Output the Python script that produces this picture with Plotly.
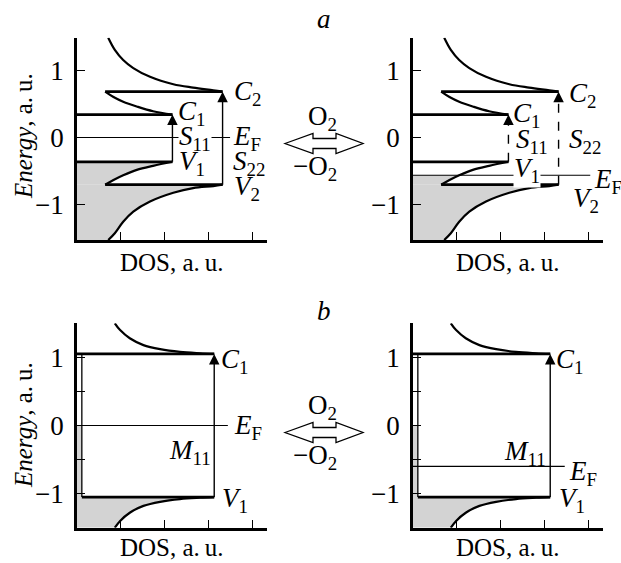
import plotly.graph_objects as go
from plotly.subplots import make_subplots

# ---------------- data ----------------
# (a) semiconducting tube: band edges (a.u.)
a_C2, a_C1, a_V1, a_V2 = 0.68, 0.34, -0.36, -0.70
a_EF = [0.0, -0.56]          # Fermi level: left (pristine), right (after O2)
a_EF_end = [3.48, 4.03]      # length of the E_F line (DOS units)
a_peak1, a_peak2, a_base = 2.17, 3.31, 0.64
a_C2_tail_x = [0.71, 0.86, 1.05, 1.28, 1.66, 2.19, 2.64, 3.10, 3.31]
a_C2_tail_E = [1.48, 1.30, 1.15, 1.03, 0.90, 0.79, 0.74, 0.70, 0.68]
a_C1_tail_x = [0.64, 0.83, 1.05, 1.36, 1.73, 2.17]
a_C1_tail_E = [0.68, 0.60, 0.53, 0.46, 0.39, 0.34]
a_V1_tail_x = [2.17, 1.73, 1.36, 1.05, 0.83, 0.64]
a_V1_tail_E = [-0.36, -0.42, -0.48, -0.56, -0.63, -0.70]
a_V2_tail_x = [3.31, 3.10, 2.64, 2.19, 1.66, 1.28, 1.05, 0.86, 0.71]
a_V2_tail_E = [-0.70, -0.72, -0.75, -0.82, -0.95, -1.10, -1.25, -1.42, -1.52]

# (b) metallic tube
b_C1, b_V1 = 1.05, -1.05
b_EF = [0.0, -0.60]
b_EF_end = [3.43, 3.45]
b_peak, b_const = 3.12, 0.11
b_fill_top = [0.0, 0.0]
b_C1_tail_x = [0.86, 0.98, 1.20, 1.51, 1.89, 2.34, 2.80, 3.12]
b_C1_tail_E = [1.50, 1.40, 1.28, 1.18, 1.12, 1.08, 1.06, 1.05]
b_V1_tail_x = [3.12, 2.80, 2.34, 1.89, 1.51, 1.20, 0.98, 0.86]
b_V1_tail_E = [-1.05, -1.06, -1.08, -1.12, -1.18, -1.28, -1.40, -1.50]

# label positions (DOS, energy); third flag: label masks the E_F line behind it
a_labels = [
    [("<i>S</i><sub>11</sub>", 2.30, -0.01, True),
     ("<i>C</i><sub>2</sub>", 3.55, 0.66, False), ("<i>C</i><sub>1</sub>", 2.27, 0.36, False),
     ("<i>E</i><sub>F</sub>", 3.52, 0.0, False),
     ("<i>S</i><sub>22</sub>", 3.52, -0.38, False), ("<i>V</i><sub>1</sub>", 2.30, -0.385, False),
     ("<i>V</i><sub>2</sub>", 3.55, -0.75, False)],
    [("<i>V</i><sub>1</sub>", 2.28, -0.48, True),
     ("<i>C</i><sub>2</sub>", 3.53, 0.63, False), ("<i>C</i><sub>1</sub>", 2.25, 0.33, False),
     ("<i>S</i><sub>11</sub>", 2.33, -0.05, False), ("<i>S</i><sub>22</sub>", 3.53, -0.05, False),
     ("<i>E</i><sub>F</sub>", 4.10, -0.65, False),
     ("<i>V</i><sub>2</sub>", 3.62, -0.93, False)],
]
b_labels = [
    [("<i>C</i><sub>1</sub>", 3.25, 0.95), ("<i>E</i><sub>F</sub>", 3.55, -0.02),
     ("<i>M</i><sub>11</sub>", 2.07, -0.39), ("<i>V</i><sub>1</sub>", 3.27, -1.10)],
    [("<i>C</i><sub>1</sub>", 3.22, 0.95), ("<i>M</i><sub>11</sub>", 2.04, -0.40),
     ("<i>E</i><sub>F</sub>", 3.52, -0.69), ("<i>V</i><sub>1</sub>", 3.30, -1.10)],
]

FONT = "Liberation Serif, Times New Roman, Times, serif"
GRAY = "#d3d3d3"
W, H = 621, 563

fig = make_subplots(rows=2, cols=2)
annotations = []

def add_line(x, y, xr, yr, width=2.2, dash="solid", shape="linear"):
    fig.add_trace(go.Scatter(x=x, y=y, mode="lines", xaxis=xr, yaxis=yr,
                             line=dict(color="black", width=width, dash=dash, shape=shape),
                             hoverinfo="skip", showlegend=False))

def add_fill(x, y, xr, yr, shape="linear"):
    fig.add_trace(go.Scatter(x=x, y=y, mode="lines", xaxis=xr, yaxis=yr, fill="tozerox",
                             fillcolor=GRAY, line=dict(width=0, color=GRAY, shape=shape),
                             hoverinfo="skip", showlegend=False))

def add_head(x, y, xr, yr):
    annotations.append(dict(x=x, y=y, ax=x, ay=y - 0.1, xref=xr, yref=yr, axref=xr, ayref=yr,
                            showarrow=True, arrowhead=2, arrowsize=1.4, arrowwidth=1.5,
                            arrowcolor="black", text="", standoff=0))

def add_label(t, x, y, xr, yr, bg=False):
    d = dict(text=t, x=x, y=y, xref=xr, yref=yr, xanchor="left", yanchor="middle",
             showarrow=False, font=dict(family=FONT, size=27, color="black"), borderpad=0)
    if bg:
        d["bgcolor"] = "white"
    annotations.append(d)

# ---- panel a ----
for i, (xr, yr) in enumerate([("x", "y"), ("x2", "y2")]):
    ef = a_EF[i]
    sel = [k for k, e in enumerate(a_V1_tail_E) if e <= ef + 1e-9]
    add_fill([a_V1_tail_x[k] for k in sel], [a_V1_tail_E[k] for k in sel], xr, yr, "spline")
    add_fill(a_V2_tail_x, a_V2_tail_E, xr, yr, "spline")
    for tx, te in [(a_C2_tail_x, a_C2_tail_E), (a_C1_tail_x, a_C1_tail_E),
                   (a_V1_tail_x, a_V1_tail_E), (a_V2_tail_x, a_V2_tail_E)]:
        add_line(tx, te, xr, yr, width=2.2, shape="spline")
    add_line([a_base, a_peak2], [a_C2, a_C2], xr, yr, 2.8)
    add_line([0, a_peak1], [a_C1, a_C1], xr, yr, 2.8)
    add_line([0, a_peak1], [a_V1, a_V1], xr, yr, 2.8)
    add_line([a_base, a_peak2], [a_V2, a_V2], xr, yr, 2.8)
    add_line([0, a_EF_end[i]], [ef, ef], xr, yr, 1.2)
    dash = "solid" if i == 0 else "dash"
    add_line([a_peak1, a_peak1], [a_V1, a_C1 - 0.05], xr, yr, 1.4, dash)
    add_line([a_peak2, a_peak2], [a_V2, a_C2 - 0.05], xr, yr, 1.4, dash)
    add_head(a_peak1, a_C1, xr, yr)
    add_head(a_peak2, a_C2, xr, yr)
    for t, lx, ly, bg in a_labels[i]:
        add_label(t, lx, ly, xr, yr, bg)

# ---- panel b ----
for i, (xr, yr) in enumerate([("x3", "y3"), ("x4", "y4")]):
    ef = b_EF[i]
    add_fill([b_const, b_const], [b_fill_top[i], b_V1], xr, yr)
    add_fill(b_V1_tail_x, b_V1_tail_E, xr, yr, "spline")
    add_line(b_C1_tail_x, b_C1_tail_E, xr, yr, 2.2, shape="spline")
    add_line(b_V1_tail_x, b_V1_tail_E, xr, yr, 2.2, shape="spline")
    add_line([b_const, b_const], [b_V1, b_C1], xr, yr, 1.3)
    add_line([0, b_peak], [b_C1, b_C1], xr, yr, 2.8)
    add_line([b_const, b_peak], [b_V1, b_V1], xr, yr, 2.8)
    add_line([0, b_EF_end[i]], [ef, ef], xr, yr, 1.2)
    add_line([b_peak, b_peak], [b_V1, b_C1 - 0.05], xr, yr, 1.4)
    add_head(b_peak, b_C1, xr, yr)
    for t, lx, ly in b_labels[i]:
        add_label(t, lx, ly, xr, yr)

# ---- axes ----
def px_x(p):
    return p / W

def px_y(p):
    return 1 - p / H

xdom_l = [px_x(77), px_x(267)]
xdom_r = [px_x(413), px_x(603)]
ydom_t = [px_y(240), px_y(37.7)]
ydom_b = [px_y(527.7), px_y(323.3)]

xcommon = dict(range=[0, 4.32], showgrid=False, zeroline=False, showline=True, linewidth=2.8,
               linecolor="black", ticks="inside", ticklen=8, tickwidth=1.3, tickcolor="black",
               tickvals=[1, 2, 3, 4], showticklabels=False)
ycommon = dict(showgrid=False, zeroline=False, showline=True, linewidth=2.8, linecolor="black",
               ticks="inside", ticklen=8, tickwidth=1.3, tickcolor="black",
               tickfont=dict(family=FONT, size=27, color="black"), ticklabelstandoff=5)
ytop = dict(ycommon, range=[-1.52, 1.48], tickvals=[-1, 0, 1], ticktext=["\u22121", "0", "1"])
ybot = dict(ycommon, range=[-1.5, 1.5], tickvals=[-1.5, -1, -0.5, 0, 0.5, 1, 1.5],
            ticktext=["", "\u22121", "", "0", "", "1", ""])

fig.update_layout(
    xaxis=dict(xcommon, domain=xdom_l, anchor="y"),
    xaxis2=dict(xcommon, domain=xdom_r, anchor="y2"),
    xaxis3=dict(xcommon, domain=xdom_l, anchor="y3"),
    xaxis4=dict(xcommon, domain=xdom_r, anchor="y4"),
    yaxis=dict(ytop, domain=ydom_t, anchor="x"),
    yaxis2=dict(ytop, domain=ydom_t, anchor="x2"),
    yaxis3=dict(ybot, domain=ydom_b, anchor="x3"),
    yaxis4=dict(ybot, domain=ydom_b, anchor="x4"),
)

# ---- free text ----
def ptext(t, xp, yp, size=27, angle=0, xanchor="center"):
    annotations.append(dict(text=t, x=px_x(xp), y=px_y(yp), xref="paper", yref="paper",
                            xanchor=xanchor, yanchor="middle", showarrow=False, textangle=angle,
                            font=dict(family=FONT, size=size, color="black")))

ptext("<i>a</i>", 324, 19)
ptext("<i>b</i>", 324, 311)
for yc in [136, 425]:
    ptext("<i>Energy</i>, a.\u2009u.", 23, yc, size=25, angle=-90)
for yc in [262, 547]:
    ptext("DOS, a.\u2009u.", 172, yc, size=25)
    ptext("DOS, a.\u2009u.", 508, yc, size=25)

shapes = []
for k, c in enumerate([143.5, 432.5]):
    ptext("O<sub>2</sub>", 322, c - 26)
    ptext("\u2212O<sub>2</sub>", 315, c + 24)
    pts = [(285, c), (313, c - 10), (313, c - 5), (336, c - 5), (336, c - 10), (363, c),
           (336, c + 10), (336, c + 5), (313, c + 5), (313, c + 10)]
    path = "M " + " L ".join(f"{px_x(a):.5f},{px_y(b):.5f}" for a, b in pts) + " Z"
    shapes.append(dict(type="path", path=path, xref="paper", yref="paper",
                       line=dict(color="black", width=1.3), fillcolor="white"))

fig.update_layout(width=W, height=H, margin=dict(l=0, r=0, t=0, b=0),
                  paper_bgcolor="white", plot_bgcolor="white",
                  annotations=annotations, shapes=shapes, showlegend=False)

fig.write_html("out.html")
